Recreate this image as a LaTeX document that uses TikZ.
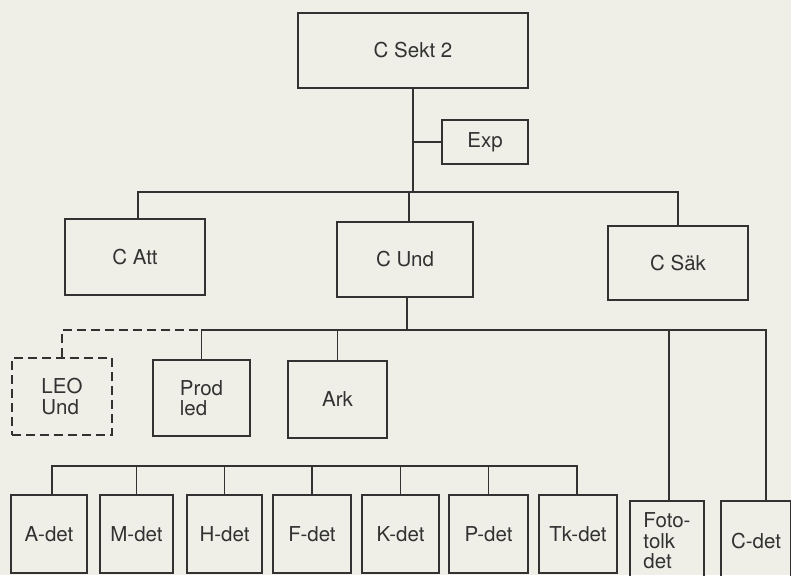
\documentclass[tikz,border=0pt]{standalone}
\usepackage{fontspec}
\setmainfont{TeX Gyre Heros}
\definecolor{paper}{RGB}{239,239,232}
\definecolor{ink}{RGB}{50,50,50}

\begin{document}
\begin{tikzpicture}[x=1pt,y=-1pt,line width=1.2pt,color=ink,
  box/.style={draw,inner sep=0pt,align=left,font=\fontsize{20.5}{20.5}\selectfont},
  dbox/.style={box,dash pattern=on 9pt off 5pt}]
  \fill[paper] (0,0) rectangle (791,575);
  \useasboundingbox (0,0) rectangle (791,575);
  % ledning
  \node[box,minimum width=230pt,minimum height=75pt] (sekt) at (413,50.5) {C Sekt 2};
  \node[box,minimum width=86pt,minimum height=44pt] (exp) at (485,142) {Exp};
  \node[box,minimum width=140pt,minimum height=76pt] (att) at (135,257) {C Att};
  \node[box,minimum width=136pt,minimum height=75pt] (und) at (405,259.5) {C Und};
  \node[box,minimum width=140pt,minimum height=74pt] (sak) at (678,263) {C Säk};
  % under C Und
  \node[dbox,minimum width=100pt,minimum height=77pt] (leo) at (62,396.5) {LEO\\Und};
  \node[box,minimum width=97pt,minimum height=76pt] (prod) at (201.5,398) {Prod\\led};
  \node[box,minimum width=99pt,minimum height=77pt] (ark) at (337.5,399.5) {Ark};
  % detaljer
  \foreach \n/\x/\w/\t in {adet/49/76/A-det,mdet/136.5/73/M-det,hdet/224.5/75/H-det,
      fdet/312/78/F-det,kdet/400.5/77/K-det,pdet/488.5/79/P-det,tkdet/578/78/Tk-det}
    \node[box,minimum width=\w pt,minimum height=78pt] (\n) at (\x,534) {\t};
  \node[box,minimum width=74pt,minimum height=80pt] (foto) at (667,541) {Foto-\\tolk\\det};
  \node[box,minimum width=70pt,minimum height=80pt] (cdet) at (756,541) {C-det};

  \coordinate (top) at (0,192);
  \coordinate (mid) at (0,330);
  \coordinate (low) at (0,466);

  \draw (sekt.south) -- (sekt.south |- top);
  \draw (exp.west) -- (exp.west -| sekt.south);
  \draw ([xshift=3pt]att.north) |- (sak.north |- top) -- (sak.north);
  \draw ([xshift=4pt]und.north) -- ([xshift=4pt]und.north |- top);

  \draw ([xshift=2pt]und.south) -- ([xshift=2pt]und.south |- mid);
  \draw (prod.north) |- ([xshift=10pt]cdet.north |- mid) -- ([xshift=10pt]cdet.north);
  \draw (ark.north) -- (ark.north |- mid);
  \draw ([xshift=2pt]foto.north) -- ([xshift=2pt]foto.north |- mid);
  \draw[dash pattern=on 9pt off 5pt] (leo.north) |- (prod.north |- mid);

  \draw ([xshift=3pt]adet.north) |- ([xshift=-1pt]tkdet.north |- low) -- ([xshift=-1pt]tkdet.north);
  \foreach \n in {mdet,hdet,fdet,kdet,pdet}
    \draw (\n.north) -- (\n.north |- low);
\end{tikzpicture}
\end{document}
